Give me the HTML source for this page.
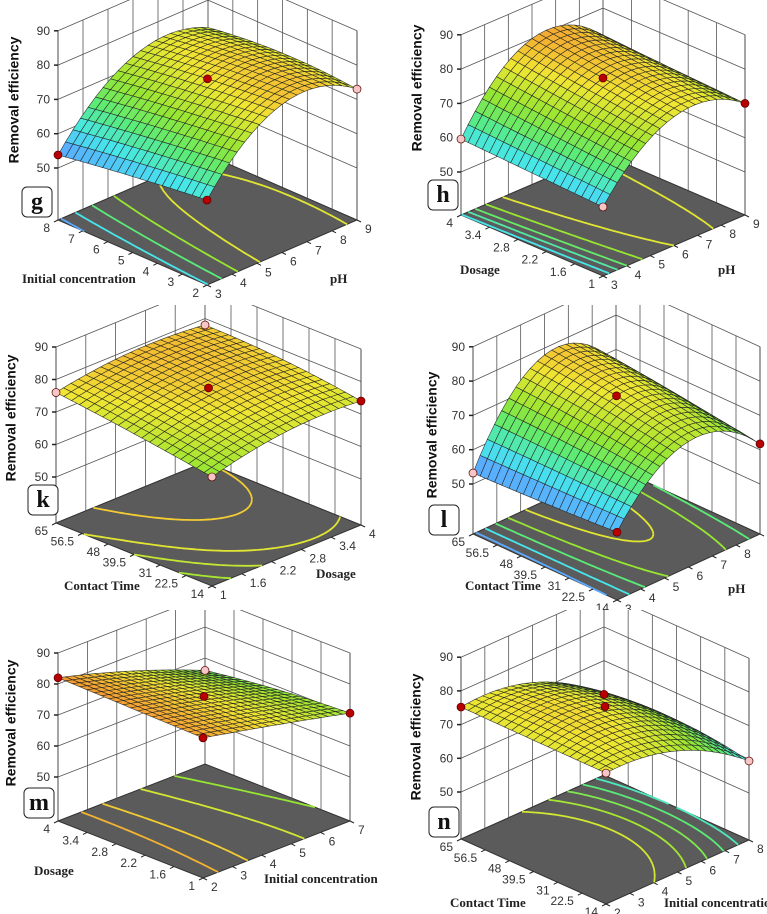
<!DOCTYPE html>
<html><head><meta charset="utf-8">
<style>
html,body{margin:0;padding:0;background:#fff;}
svg{display:block;}
.tk{font-family:"Liberation Sans",sans-serif;font-size:12px;fill:#333;}
.ttl{font-family:"Liberation Serif",serif;font-size:13px;font-weight:bold;fill:#222;}
.yl{font-family:"Liberation Sans",sans-serif;font-size:14px;font-weight:bold;fill:#111;}
.let{font-family:"Liberation Serif",serif;font-size:24px;font-weight:bold;fill:#111;}
</style></head>
<body>
<svg id="fig" width="767" height="914" viewBox="0 0 767 914" xmlns="http://www.w3.org/2000/svg"></svg>
<script>
// ---- data (grid rows: left-axis low/mid/high ; cols: right-axis low/mid/high) ----
const gGrid=[[59.6,78,73],[57,76,74],[53.8,73,72]];
const gU=['3','4','5','6','7','8','9'];
const gV=['2','3','4','5','6','7','8'];
const gLevels=[55,60,65,70,75];
const gPts=[[0,0,'r'],[0,1,'r'],[0.5,0.5,'r'],[1,0,'p']];

const hGrid=[[57.6,75,70],[58.6,77.4,71],[59.6,80,72]];
const hU=['3','4','5','6','7','8','9'];
const hV=['1','1.6','2.2','2.8','3.4','4'];
const hLevels=[60,63,66,70,75];
const hPts=[[0,0,'p'],[0,1,'p'],[0.5,0.5,'r'],[1,0,'r']];

const kGrid=[[69.4,74,74],[73,77.7,77],[76,79,78]];
const kU=['1','1.6','2.2','2.8','3.4','4'];
const kV=['14','22.5','31','39.5','48','56.5','65'];
const kLevels=[71,73,75,78];
const kPts=[[0,0,'p'],[0,1,'p'],[0.5,0.5,'r'],[1,0,'r'],[1,1,'p']];

const lGrid=[[55.2,72,61.7],[54,75.7,64],[53.2,78,66]];
const lU=['3','4','5','6','7','8','9'];
const lV=['14','22.5','31','39.5','48','56.5','65'];
const lLevels=[55,60,65,70,75];
const lPts=[[0,0,'r'],[0,1,'p'],[0.5,0.5,'r'],[1,0,'r']];

const mGrid=[[81,76,70.6],[81.5,76,69],[82,75,66]];
const mU=['2','3','4','5','6','7'];
const mV=['1','1.6','2.2','2.8','3.4','4'];
const mLevels=[70,74,78,80];
const mPts=[[0,0,'r'],[0,1,'r'],[0.5,0.5,'r'],[1,0,'r'],[1,1,'p']];

const nGrid=[[74.9,72,59.5],[75,75.5,62],[75.2,73,60]];
const nU=['2','3','4','5','6','7','8'];
const nV=['14','22.5','31','39.5','48','56.5','65'];
const nLevels=[62,65,68,71,74];
const nPts=[[0,0,'p'],[0,1,'r'],[0.5,0.5,'r'],[1,0,'p'],[1,1,'r']];

// ---- layout ----
const panels=[
 {id:'g',B:[207,285],L:[58,220],R:[357,220],off:52,sc:3.43,grid:gGrid,uT:gU,vT:gV,lev:gLevels,pts:gPts,clip:[0,0,383,305],box:[22,187],yl:[15,100],lt:['Initial concentration',22,283],rt:['pH',330,283]},
 {id:'h',B:[603,276],L:[461,215],R:[745,215],off:43,sc:3.43,grid:hGrid,uT:hU,vT:hV,lev:hLevels,pts:hPts,clip:[383,0,384,305],box:[428,180],yl:[418,88],lt:['Dosage',460,274],rt:['pH',718,274]},
 {id:'k',B:[212,586],L:[56,523],R:[361,525],off:46,sc:3.25,grid:kGrid,uT:kU,vT:kV,lev:kLevels,pts:kPts,clip:[0,305,383,305],box:[28,485],yl:[12,418],lt:['Contact Time',64,590],rt:['Dosage',316,578]},
 {id:'l',B:[617,600],L:[473,534],R:[760,534],off:50,sc:3.43,grid:lGrid,uT:lU,vT:lV,lev:lLevels,pts:lPts,clip:[383,305,384,305],box:[429,505],yl:[433,435],lt:['Contact Time',465,590],rt:['pH',728,593]},
 {id:'m',B:[203,878],L:[58,821],R:[350,821],off:44,sc:3.1,grid:mGrid,uT:mU,vT:mV,lev:mLevels,pts:mPts,clip:[0,610,383,304],box:[24,788],yl:[12,723],lt:['Dosage',34,875],rt:['Initial concentration',264,883]},
 {id:'n',B:[606,904],L:[461,839],R:[749,840],off:47,sc:3.37,grid:nGrid,uT:nU,vT:nV,lev:nLevels,pts:nPts,clip:[383,610,384,304],box:[429,807],yl:[417,737],lt:['Contact Time',450,907],rt:['Initial concentration',664,907]}
];
const NS='http://www.w3.org/2000/svg';
const svg=document.getElementById('fig');
function mk(tag,attrs,parent){const e=document.createElementNS(NS,tag);for(const k in attrs)e.setAttribute(k,attrs[k]);(parent||svg).appendChild(e);return e;}
const stops=[[50,[120,110,255]],[55,[90,170,255]],[60,[70,230,235]],[65,[90,235,120]],[70,[150,230,50]],[76,[240,230,50]],[81,[245,165,50]],[87,[230,70,20]]];
function col(z){if(z<=stops[0][0])return 'rgb('+stops[0][1]+')';for(let i=1;i<stops.length;i++){if(z<=stops[i][0]){const a=stops[i-1],b=stops[i],f=(z-a[0])/(b[0]-a[0]);return 'rgb('+a[1].map((c,j)=>Math.round(c+(b[1][j]-c)*f)).join(',')+')';}}return 'rgb('+stops[stops.length-1][1]+')';}
function Lg(s){return [2*(s-.5)*(s-1),-4*s*(s-1),2*s*(s-.5)];}

panels.forEach(P=>{
 const defs=mk('defs',{});
 const cp=mk('clipPath',{id:'cp-'+P.id},defs);
 mk('rect',{x:P.clip[0],y:P.clip[1],width:P.clip[2],height:P.clip[3]},cp);
 const g=mk('g',{'clip-path':'url(#cp-'+P.id+')'});
 
 
 const zf=(s,t)=>{const a=Lg(s),b=Lg(t);let z=0;for(let i=0;i<3;i++)for(let j=0;j<3;j++)z+=b[i]*a[j]*P.grid[i][j];return z;};
 const pr=(s,t,z)=>{const x=P.B[0]+s*(P.R[0]-P.B[0])+t*(P.L[0]-P.B[0]);let y=P.B[1]+s*(P.R[1]-P.B[1])+t*(P.L[1]-P.B[1]);if(z!==null)y-=P.off+(z-50)*P.sc;return [x,y];};
 const pts=a=>a.map(p=>p[0].toFixed(1)+','+p[1].toFixed(1)).join(' ');
 const walls=mk('g',{},g);
 
 
 const zTop=90,zTicks=[50,60,70,80,90];
 const wl={stroke:'#555','stroke-width':0.8,fill:'none'};
 P.uT.forEach((_,i)=>{const s=i/(P.uT.length-1);const a=pr(s,1,null),b=pr(s,1,zTop);mk('line',Object.assign({x1:a[0],y1:a[1],x2:b[0],y2:b[1]},wl),walls);});
 P.vT.forEach((_,i)=>{const t=i/(P.vT.length-1);const a=pr(1,t,null),b=pr(1,t,zTop);mk('line',Object.assign({x1:a[0],y1:a[1],x2:b[0],y2:b[1]},wl),walls);});
 zTicks.forEach(z=>{const a=pr(0,1,z),b=pr(1,1,z),c=pr(1,0,z);mk('polyline',Object.assign({points:pts([a,b,c])},wl),walls);});
 {const a=pr(0,1,null),b=pr(1,1,null),c=pr(1,0,null);mk('polyline',Object.assign({points:pts([a,b,c])},wl),walls);}
 const fl=mk('polygon',{points:pts([pr(0,0,null),pr(1,0,null),pr(1,1,null),pr(0,1,null)]),fill:'#5b5b5b',stroke:'#333','stroke-width':1},g);
 
 
 const N=40,cg=mk('g',{fill:'none','stroke-width':1.8},g);
 
 
 P.lev.forEach(lv=>{
  let d='';
  for(let i=0;i<N;i++)for(let j=0;j<N;j++){
   const s0=i/N,s1=(i+1)/N,t0=j/N,t1=(j+1)/N;
   const c=[[s0,t0],[s1,t0],[s1,t1],[s0,t1]],v=c.map(p=>zf(p[0],p[1])-lv);
   const cr=[];
   for(let k=0;k<4;k++){const a=v[k],b=v[(k+1)%4];if((a<0)!==(b<0)){const f=a/(a-b),p=c[k],q=c[(k+1)%4];cr.push([p[0]+(q[0]-p[0])*f,p[1]+(q[1]-p[1])*f]);}}
   for(let k=0;k+1<cr.length;k+=2){const a=pr(cr[k][0],cr[k][1],null),b=pr(cr[k+1][0],cr[k+1][1],null);d+='M'+a[0].toFixed(1)+' '+a[1].toFixed(1)+'L'+b[0].toFixed(1)+' '+b[1].toFixed(1);}
  }
  if(d){const p=mk('path',{d:d,stroke:col(lv)},cg);}
 });
 P.vT.forEach((lab,i)=>{const t=i/(P.vT.length-1);const a=pr(0,t,null);mk('line',{x1:a[0],y1:a[1],x2:a[0]-4,y2:a[1]+2,stroke:'#222'},g);
  const tx=mk('text',{x:a[0]-8,y:a[1]+12,'text-anchor':'end',class:'tk'},g);tx.textContent=lab;});
 P.uT.forEach((lab,i)=>{const s=i/(P.uT.length-1);const a=pr(s,0,null);mk('line',{x1:a[0],y1:a[1],x2:a[0]+4,y2:a[1]+2,stroke:'#222'},g);
  const tx=mk('text',{x:a[0]+8,y:a[1]+13,class:'tk'},g);tx.textContent=lab;});
 [[0,1],[1,0]].forEach(e=>{const a=pr(e[0],e[1],null),b=pr(e[0],e[1],zTop);mk('line',{x1:a[0],y1:a[1],x2:b[0],y2:b[1],stroke:'#444','stroke-width':0.9},g);});
 zTicks.forEach(z=>{const a=pr(0,1,z);mk('line',{x1:a[0]-4,y1:a[1],x2:a[0],y2:a[1],stroke:'#222','stroke-width':1.5},g);
  const tx=mk('text',{x:a[0]-8,y:a[1]+4,'text-anchor':'end',class:'tk'},g);tx.textContent=z;});
 const sg=mk('g',{stroke:'#222','stroke-width':0.6,'stroke-opacity':0.9},g);
 
 
 const M=20,quads=[];
 for(let i=0;i<M;i++)for(let j=0;j<M;j++)quads.push([i,j]);
 quads.sort((a,b)=>(b[0]+b[1])-(a[0]+a[1]));
 quads.forEach(q=>{const s0=q[0]/M,s1=(q[0]+1)/M,t0=q[1]/M,t1=(q[1]+1)/M;
  const zs=[zf(s0,t0),zf(s1,t0),zf(s1,t1),zf(s0,t1)];const za=(zs[0]+zs[1]+zs[2]+zs[3])/4;
  mk('polygon',{points:pts([pr(s0,t0,zs[0]),pr(s1,t0,zs[1]),pr(s1,t1,zs[2]),pr(s0,t1,zs[3])]),fill:col(za)},sg);});
 P.pts.forEach(p=>{const a=pr(p[0],p[1],zf(p[0],p[1]));const c=mk('circle',{cx:a[0],cy:a[1],r:4,fill:p[2]==='r'?'#b80000':'#f6c6c6',stroke:'#550000','stroke-width':0.7},g);
  });
 const yl=mk('text',{x:P.yl[0],y:P.yl[1],transform:'rotate(-90 '+P.yl[0]+' '+P.yl[1]+')','text-anchor':'middle','dominant-baseline':'middle',class:'yl'},g);
 yl.textContent='Removal efficiency';
 const lt=mk('text',{x:P.lt[1],y:P.lt[2],class:'ttl'},g);lt.textContent=P.lt[0];
 const rt=mk('text',{x:P.rt[1],y:P.rt[2],class:'ttl'},g);rt.textContent=P.rt[0];
 const bx=mk('rect',{x:P.box[0],y:P.box[1],width:30,height:30,rx:5,fill:'#fff',stroke:'#222','stroke-width':1},g);
 
 const lb=mk('text',{x:P.box[0]+15,y:P.box[1]+22,'text-anchor':'middle',class:'let'},g);lb.textContent=P.id;
});
</script>
</body></html>
